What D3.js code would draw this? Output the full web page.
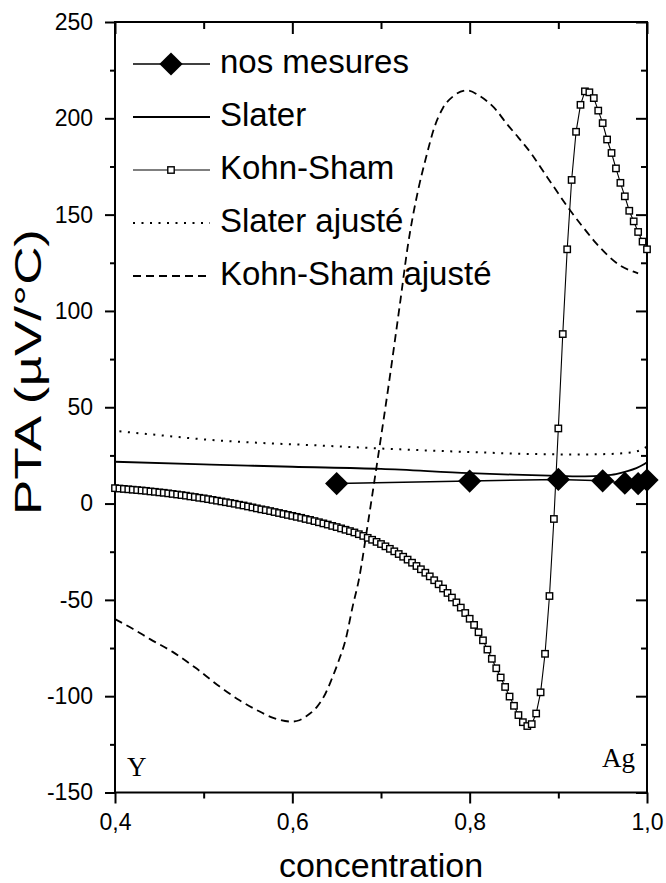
<!DOCTYPE html>
<html><head><meta charset="utf-8">
<script src="https://cdn.jsdelivr.net/npm/d3@7"></script>
<style>body{margin:0;background:#fff}svg{display:block}</style>
</head><body><svg id="c" width="666" height="883"></svg>
<script>
// ---------- data ----------
const xMajor = [0.4, 0.6, 0.8, 1.0];
const xMinor = [0.5, 0.7, 0.9];
const yMajor = [-150, -100, -50, 0, 50, 100, 150, 200, 250];
const yMinor = [-125, -75, -25, 25, 75, 125, 175, 225];

const legendLabels = ["nos mesures", "Slater", "Kohn-Sham", "Slater ajusté", "Kohn-Sham ajusté"];

const measConc = [0.65, 0.8, 0.9, 0.95, 0.975, 0.99, 1.0];
const measVal  = [10.4, 11.7, 12.5, 11.8, 10.6, 10.4, 12.2];

const slaterConc = [0.4, 0.5, 0.55, 0.6, 0.7, 0.8, 0.85, 0.9, 0.93, 0.95, 0.965, 0.976, 0.988, 0.995, 1.0];
const slaterVal  = [21.7, 20.3, 19.7, 19.1, 18.0, 15.8, 15.0, 14.4, 14.1, 14.5, 15.3, 16.6, 18.4, 20.0, 21.5];

const slaterAdjConc = [0.405, 0.45, 0.506, 0.56, 0.628, 0.69, 0.75, 0.81, 0.872, 0.92, 0.954, 0.975, 0.988, 1.0];
const slaterAdjVal  = [37.5, 35.5, 33.1, 31.6, 30.2, 28.8, 27.6, 26.6, 25.7, 25.5, 25.7, 26.2, 27.0, 29.5];

const ksAdjConc = [0.40, 0.42, 0.44, 0.465, 0.49, 0.518, 0.54, 0.559, 0.58, 0.599, 0.608, 0.615, 0.628, 0.637, 0.644, 0.652, 0.66, 0.668, 0.675, 0.685, 0.695, 0.709, 0.722, 0.73, 0.742, 0.751, 0.76, 0.77, 0.7815, 0.797, 0.8116, 0.8305, 0.841, 0.855, 0.869, 0.883, 0.897, 0.912, 0.927, 0.942, 0.957, 0.97, 0.984, 0.99];
const ksAdjVal  = [-60, -65, -70.5, -77, -85, -95, -102, -107, -111.5, -113.2, -112.5, -110.6, -105.4, -99, -91.6, -82, -70.8, -53.5, -39.6, -11, 19.2, 62.7, 105.8, 133, 163, 180, 195, 205.5, 211.5, 214.5, 211.5, 204, 197.6, 190, 182, 172.5, 163, 153, 144, 135.5, 128.3, 123.5, 120.5, 119.5];

const ksConc = [
  0.400,0.405,0.410,0.415,0.420,0.425,0.430,0.435,0.440,0.445,
  0.450,0.455,0.460,0.465,0.470,0.475,0.480,0.485,0.490,0.495,
  0.500,0.505,0.510,0.515,0.520,0.525,0.530,0.535,0.540,0.545,
  0.550,0.555,0.560,0.565,0.570,0.575,0.580,0.585,0.590,0.595,
  0.600,0.605,0.610,0.615,0.620,0.625,0.630,0.635,0.640,0.645,
  0.650,0.655,0.660,0.665,0.670,0.675,0.680,0.685,0.690,0.695,
  0.700,0.705,0.710,0.715,0.720,0.725,0.730,0.735,0.740,0.745,
  0.750,0.755,0.760,0.765,0.770,0.775,0.780,0.785,0.790,0.795,
  0.800,0.805,0.810,0.815,0.820,0.825,0.830,0.835,0.840,0.845,
  0.850,0.855,0.860,0.865,0.870,0.875,0.880,0.885,0.890,0.895,
  0.900,0.905,0.910,0.915,0.920,0.925,0.930,0.935,0.940,0.945,
  0.950,0.955,0.960,0.965,0.970,0.975,0.980,0.985,0.990,0.995,
  1.000];
const ksVal = [
  8.0,7.8,7.6,7.4,7.2,7.0,6.8,6.6,6.3,6.1,
  5.8,5.6,5.3,5.0,4.7,4.4,4.1,3.7,3.4,3.0,
  2.7,2.3,1.9,1.5,1.1,0.7,0.3,-0.1,-0.6,-1.0,
  -1.5,-2.0,-2.5,-3.0,-3.4,-3.9,-4.4,-4.9,-5.4,-5.9,
  -6.4,-6.9,-7.4,-8.0,-8.5,-9.1,-9.7,-10.3,-10.9,-11.6,
  -12.2,-12.9,-13.6,-14.3,-15.0,-15.9,-16.8,-17.8,-18.8,-19.9,
  -21.0,-22.2,-23.5,-24.8,-26.2,-27.6,-29.1,-30.7,-32.4,-34.1,
  -35.9,-37.8,-39.8,-41.9,-44.1,-46.4,-48.8,-51.3,-54.0,-56.8,
  -59.8,-63.0,-66.8,-71.0,-75.8,-80.6,-85.5,-90.3,-95.2,-100.2,
  -105.0,-109.8,-113.5,-115.5,-114.5,-109.0,-98.0,-78.0,-48.0,-8.0,
  39,88,132,168,193,207,214,213.5,210.5,204,
  197.5,189,182,174,166.5,159.5,152,146.5,141,136,
  132];

// ---------- layout ----------
const L = 115, R = 647, T = 22, B = 792.5;
const svg = d3.select("#c");
const x = d3.scaleLinear().domain([0.4, 1.0]).range([L, R]);
const y = d3.scaleLinear().domain([-150, 250]).range([B, T]);
const sans = "'Liberation Sans', Arial, sans-serif";
const serif = "'Liberation Serif', 'Times New Roman', serif";

function styleAxis(g) {
  g.select(".domain").remove();
  g.selectAll(".tick line").attr("stroke", "#000").attr("stroke-width", 2);
  g.selectAll(".tick text").attr("fill", "#000").attr("font-family", sans).attr("font-size", 23);
}
const fmtX = d => d.toFixed(1).replace(".", ",");
const fmtY = d => String(d);

svg.append("g").attr("transform", `translate(0,${B})`)
  .call(d3.axisBottom(x).tickValues(xMajor).tickSize(11).tickPadding(10).tickFormat(fmtX)).call(styleAxis);
svg.append("g").attr("transform", `translate(0,${B})`)
  .call(d3.axisBottom(x).tickValues(xMinor).tickSize(6).tickFormat("")).call(styleAxis);
svg.append("g").attr("transform", `translate(0,${T})`)
  .call(d3.axisTop(x).tickValues(xMajor).tickSize(-12).tickFormat("")).call(styleAxis);
svg.append("g").attr("transform", `translate(0,${T})`)
  .call(d3.axisTop(x).tickValues(xMinor).tickSize(-7).tickFormat("")).call(styleAxis);
svg.append("g").attr("transform", `translate(${L},0)`)
  .call(d3.axisLeft(y).tickValues(yMajor).tickSize(10).tickPadding(12).tickFormat(fmtY)).call(styleAxis);
svg.append("g").attr("transform", `translate(${L},0)`)
  .call(d3.axisLeft(y).tickValues(yMinor).tickSize(5).tickFormat("")).call(styleAxis);
svg.append("g").attr("transform", `translate(${R},0)`)
  .call(d3.axisRight(y).tickValues(yMajor).tickSize(-11).tickFormat("")).call(styleAxis);
svg.append("g").attr("transform", `translate(${R},0)`)
  .call(d3.axisRight(y).tickValues(yMinor).tickSize(-6).tickFormat("")).call(styleAxis);

svg.append("rect").attr("x", L).attr("y", T).attr("width", R - L).attr("height", B - T)
  .attr("fill", "none").attr("stroke", "#000").attr("stroke-width", 2);

// axis titles
svg.append("text").attr("x", (L + R) / 2).attr("y", 877).attr("text-anchor", "middle")
  .attr("font-family", sans).attr("font-size", 34).text("concentration");
svg.append("text").attr("transform", `translate(41,372) rotate(-90)`).attr("text-anchor", "middle")
  .attr("font-family", sans).attr("font-size", 36)
  .attr("textLength", 286).attr("lengthAdjust", "spacingAndGlyphs").text("PTA (µV/°C)");

svg.append("text").attr("x", 127).attr("y", 776).attr("font-family", serif).attr("font-size", 27).text("Y");
svg.append("text").attr("x", 635).attr("y", 767).attr("text-anchor", "end").attr("font-family", serif).attr("font-size", 27).text("Ag");

// ---------- curves ----------
const plot = svg.append("g");
const lineMono = d3.line().x(d => x(d[0])).y(d => y(d[1])).curve(d3.curveMonotoneX);
const lineLin = d3.line().x(d => x(d[0])).y(d => y(d[1]));

const slater = d3.zip(slaterConc, slaterVal);
const slaterAdj = d3.zip(slaterAdjConc, slaterAdjVal);
const ksAdj = d3.zip(ksAdjConc, ksAdjVal);
const ks = d3.zip(ksConc, ksVal);
const meas = d3.zip(measConc, measVal);

plot.append("path").attr("d", lineMono(slaterAdj)).attr("fill", "none").attr("stroke", "#000")
  .attr("stroke-width", 2).attr("stroke-dasharray", "2,6.5");
plot.append("path").attr("d", lineMono(slater)).attr("fill", "none").attr("stroke", "#000").attr("stroke-width", 1.8);
plot.append("path").attr("d", lineMono(ksAdj)).attr("fill", "none").attr("stroke", "#000")
  .attr("stroke-width", 1.8).attr("stroke-dasharray", "8,5");

const sq = 6.4;
plot.append("path").attr("d", lineLin(ks)).attr("fill", "none").attr("stroke", "#000").attr("stroke-width", 1.1);
plot.selectAll("rect.ks").data(ks).join("rect").attr("class", "ks")
  .attr("x", d => x(d[0]) - sq / 2).attr("y", d => y(d[1]) - sq / 2).attr("width", sq).attr("height", sq)
  .attr("fill", "#fff").attr("stroke", "#000").attr("stroke-width", 1.4);

plot.append("path").attr("d", lineLin(meas)).attr("fill", "none").attr("stroke", "#000").attr("stroke-width", 1.5);
const diamond = d3.symbol().type(d3.symbolSquare).size(270);
plot.selectAll("path.meas").data(meas).join("path").attr("class", "meas")
  .attr("d", diamond).attr("transform", d => `translate(${x(d[0])},${y(d[1])}) rotate(45)`).attr("fill", "#000");

// ---------- legend ----------
const legY = [64, 117, 170, 223, 276];
const lx0 = 133, lx1 = 210, lxm = 171;
const leg = svg.append("g");
legendLabels.forEach((lab, i) => {
  const yy = legY[i];
  const ln = leg.append("line").attr("x1", lx0).attr("x2", lx1).attr("y1", yy).attr("y2", yy).attr("stroke", "#000");
  if (i === 0) ln.attr("stroke-width", 1.5);
  if (i === 1) ln.attr("stroke-width", 1.8);
  if (i === 2) ln.attr("stroke-width", 1.1);
  if (i === 3) ln.attr("stroke-width", 2).attr("stroke-dasharray", "2,6.5");
  if (i === 4) ln.attr("stroke-width", 1.8).attr("stroke-dasharray", "8,5");
  if (i === 0) leg.append("path").attr("d", diamond).attr("transform", `translate(${lxm},${yy}) rotate(45)`).attr("fill", "#000");
  if (i === 2) leg.append("rect").attr("x", lxm - sq / 2).attr("y", yy - sq / 2).attr("width", sq).attr("height", sq)
    .attr("fill", "#fff").attr("stroke", "#000").attr("stroke-width", 1.4);
  leg.append("text").attr("x", 220).attr("y", yy + 9).attr("font-family", sans).attr("font-size", 33).text(lab);
});
</script></body></html>
